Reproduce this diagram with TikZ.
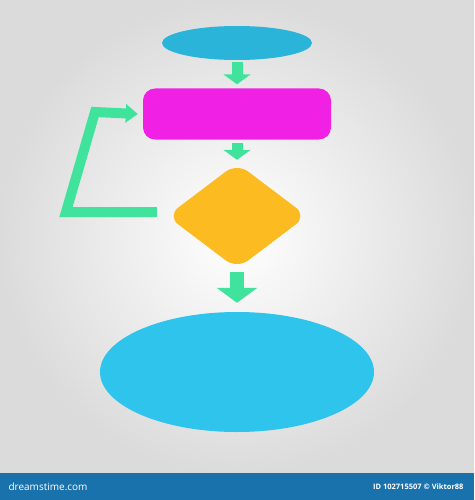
\documentclass[tikz,border=0pt]{standalone}
\usepackage{fontspec}
\setsansfont{Open Sans}
\usetikzlibrary{arrows.meta,shapes.geometric}
\definecolor{skyblue}{HTML}{2EC4EC}
\definecolor{pinkbox}{HTML}{F020E4}
\definecolor{amber}{HTML}{FDBB22}
\definecolor{flowgreen}{HTML}{3FE39C}
\definecolor{barblue}{HTML}{1A72AC}

\begin{document}
\begin{tikzpicture}[x=1pt,y=-1pt,
		main node/.style = {draw=none,inner sep=0pt},
		flow/.style = {draw=flowgreen,line width=11pt,
			-{Triangle[width=27pt,length=10pt]}}]
			\useasboundingbox (0,0) rectangle (474,500);
			\shade[inner color=white,outer color=black!14] (0,0) rectangle (474,473);
			\node[main node,ellipse,fill=skyblue!92!black,minimum width=150pt,minimum height=34pt] at (237,43) (1) {};
			\node[main node,rectangle,rounded corners=12pt,fill=pinkbox,minimum width=188pt,minimum height=51pt] at (237,114) (2) {};
			\node[main node,diamond,rounded corners=14pt,fill=amber,minimum width=140pt,minimum height=106pt] at (237,216) (3) {};
			\node[main node,ellipse,fill=skyblue,minimum width=274pt,minimum height=120pt] at (237,372) (4) {};
			\coordinate (5) at (66,212);
			\coordinate (6) at (95,112);
			\draw[flow,shorten <=2pt,shorten >=4pt] (1) -- (2);
			\draw[flow,shorten <=3pt,shorten >=3pt] (2) -- (3);
			\draw[flow,line width=14pt,-{Triangle[width=40pt,length=15pt]},shorten <=3pt,shorten >=9pt] (3) -- (4);
			\draw[flow,line width=10pt,-{Triangle[width=18pt,length=12pt]},line join=miter]
				([xshift=-10pt,yshift=4pt]3.west) -- (5) -- (6) -- ([xshift=-5pt]2.west);
			\fill[barblue] (0,473) rectangle (474,500);
			\node[anchor=west,text=white,font=\sffamily\fontsize{10}{12}\selectfont] at (5,487) (7) {dreamstime.com};
			\node[anchor=east,text=white,font=\sffamily\bfseries\fontsize{7.5}{9}\selectfont] at (467,487) (8) {ID 102715507 \textcopyright\ Viktor88};
		\end{tikzpicture}
\end{document}
